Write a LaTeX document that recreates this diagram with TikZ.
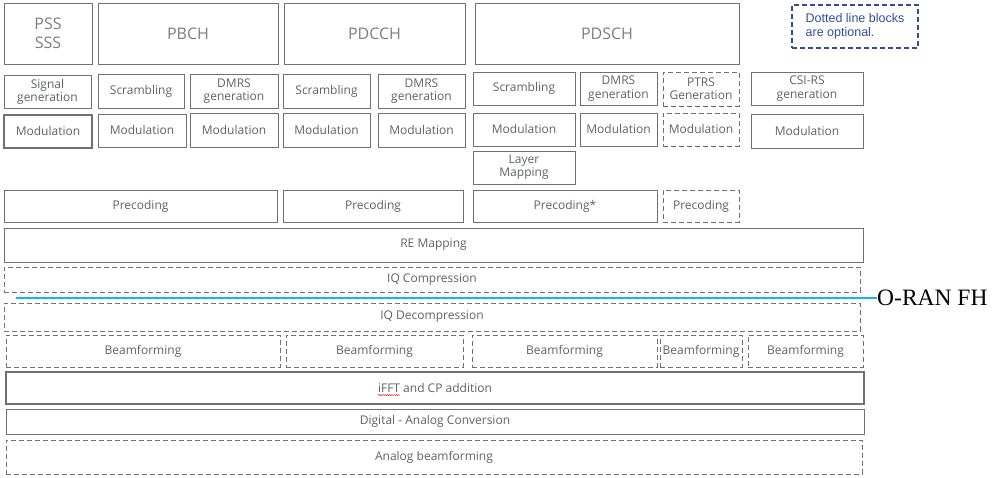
\documentclass[tikz,border=0pt]{standalone}
\usepackage{fontspec}
\usetikzlibrary{decorations.pathmorphing}
\newfontfamily\labfont{Open Sans}
\newfontfamily\legfont{Liberation Sans}
\newfontfamily\tnrfont{Liberation Serif}
\definecolor{edge}{HTML}{6E7276}
\definecolor{labtxt}{HTML}{5E6266}
\definecolor{bigtxt}{HTML}{7A7E82}
\definecolor{legblue}{HTML}{2F4E9E}
\definecolor{fhblue}{HTML}{14B4F0}
\tikzset{
  box/.style={draw=edge, line width=0.9pt, inner sep=0pt, outer sep=0pt, align=center,
    text=labtxt, font=\labfont\fontsize{12}{13.2}\selectfont},
  thickbox/.style={box, line width=1.4pt},
  optbox/.style={box, dashed, dash pattern=on 5pt off 3pt},
  bigbox/.style={box, text=bigtxt, font=\labfont\fontsize{16}{19}\selectfont},
  legbox/.style={draw=legblue, line width=1.1pt, dash pattern=on 5pt off 3pt, inner sep=0pt,
    align=left, text=legblue, font=\legfont\fontsize{12.5}{14.5}\selectfont},
  fhline/.style={draw=fhblue, line width=2pt},
  fhlabel/.style={inner sep=0pt, anchor=west, font=\tnrfont\fontsize{23.5}{25}\selectfont},
  plainword/.style={inner sep=0pt, outer sep=0pt, minimum width=0pt, minimum height=0pt,
    draw=none, anchor=base},
  squiggle/.style={overlay, draw=red, solid, line width=0.4pt, decorate,
    decoration={snake, amplitude=0.6pt, segment length=2.2pt}}
}
% \bx{name}{x1}{y1}{x2}{y2}{style}{text}
\newcommand{\bx}[7]{%
  \node[#6, minimum width={(#4-#2)*1pt}, minimum height={(#5-#3)*1pt}]
    (#1) at ({(#2+#4)/2},{(#3+#5)/2}) {#7};}
\begin{document}
\begin{tikzpicture}[x=1pt,y=-1pt]
\useasboundingbox (0,0) rectangle (998,478);
% top row
\bx{pss}{4}{3}{92}{64}{bigbox}{PSS\\SSS}
\bx{pbch}{98}{3}{278}{64}{bigbox}{PBCH}
\bx{pdcch}{284}{3}{465}{64}{bigbox}{PDCCH}
\bx{pdsch}{475}{3}{739}{64}{bigbox}{PDSCH}
\bx{legend}{792}{5}{918}{48}{legbox}{Dotted line blocks\\are optional.}
% row 2
\bx{sig}{4}{75}{91}{108}{box}{Signal\\generation}
\bx{scr1}{98}{74}{184}{108}{box}{Scrambling}
\bx{dm1}{190}{74}{278}{108}{box}{DMRS\\generation}
\bx{scr2}{283}{74}{370}{108}{box}{Scrambling}
\bx{dm2}{378}{74}{465}{108}{box}{DMRS\\generation}
\bx{scr3}{473}{72}{575}{105}{box}{Scrambling}
\bx{dm3}{580}{72}{657}{105}{box}{DMRS\\generation}
\bx{ptrs}{663}{72}{739}{106}{optbox}{PTRS\\Generation}
\bx{csi}{751}{72}{863}{105}{box}{CSI-RS\\generation}
% row 3
\bx{mod1}{4}{115}{92}{148}{thickbox}{Modulation}
\bx{mod2}{98}{114}{186}{147}{box}{Modulation}
\bx{mod3}{190}{113}{278}{147}{box}{Modulation}
\bx{mod4}{283}{113}{370}{147}{box}{Modulation}
\bx{mod5}{378}{113}{465}{147}{box}{Modulation}
\bx{mod6}{473}{113}{575}{146}{box}{Modulation}
\bx{mod7}{580}{113}{657}{146}{box}{Modulation}
\bx{mod8}{663}{113}{739}{146}{optbox}{Modulation}
\bx{mod9}{751}{114}{863}{148}{box}{Modulation}
% layer mapping
\bx{layer}{473}{151}{575}{184}{box}{Layer\\Mapping}
% precoding
\bx{pre1}{4}{190}{277}{222}{box}{Precoding}
\bx{pre2}{283}{190}{463}{222}{box}{Precoding}
\bx{pre3}{473}{190}{657}{222}{box}{Precoding*}
\bx{pre4}{663}{190}{739}{222}{optbox}{Precoding}
% full-width rows
\bx{re}{4}{228}{863}{262}{box}{RE Mapping}
\bx{iqc}{4}{267}{860}{292}{optbox}{IQ Compression}
\bx{iqd}{4}{303}{860}{331}{optbox}{IQ Decompression}
\bx{bf1}{6}{335}{280}{367}{optbox}{Beamforming}
\bx{bf2}{286}{335}{463}{367}{optbox}{Beamforming}
\bx{bf3}{472}{335}{657}{367}{optbox}{Beamforming}
\bx{bf4}{660}{335}{742}{367}{optbox}{Beamforming}
\bx{bf5}{748}{335}{863}{367}{optbox}{Beamforming}
\bx{ifft}{6}{372}{864}{404}{thickbox}{\tikz[baseline=(sq.base)]{\node[plainword](sq){iFFT};
  \draw[squiggle] ([yshift=-2.6pt]sq.south west) -- ([yshift=-2.6pt]sq.south east);} and CP addition}
\bx{dac}{6}{409}{864}{434}{box}{Digital - Analog Conversion}
\bx{abf}{6}{440}{862}{474}{optbox}{Analog beamforming}
% fronthaul line
\coordinate (fhstart) at (16,298);
\node[fhlabel] (fh) at (877,298) {O-RAN FH};
\draw[fhline] (fhstart) -- (fh.west);
\end{tikzpicture}
\end{document}
